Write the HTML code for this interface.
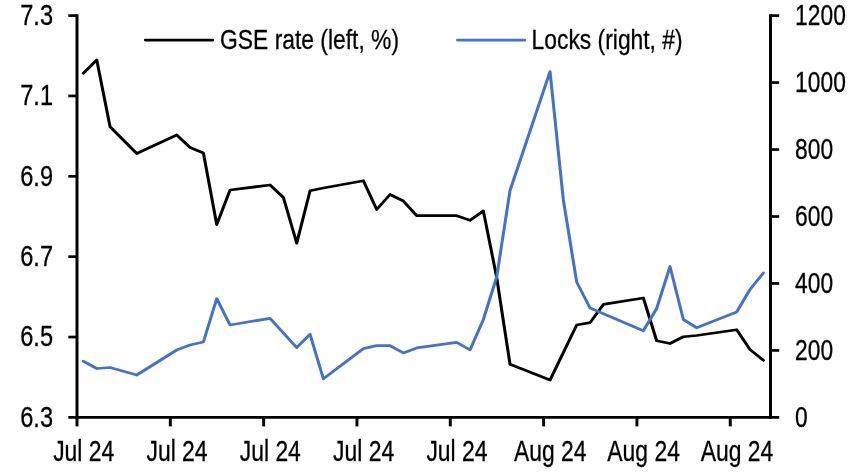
<!DOCTYPE html>
<html lang="en"><head><meta charset="utf-8"><title>GSE rate vs Locks</title>
<style>html,body{margin:0;padding:0;background:#fff}svg{display:block}text{font-family:"Liberation Sans",sans-serif;font-size:28px;fill:#000;stroke:#000;stroke-width:0.3px}</style></head><body>
<svg width="852" height="472" viewBox="0 0 852 472">
<rect width="852" height="472" fill="#fff"/>
<g transform="scale(1.1 1)" fill="none">
<g stroke="#000" stroke-width="2.7" stroke-linecap="butt">
<path d="M70.00 14.25V418.75"/>
<path d="M700.45 14.25V418.75"/>
<path d="M62.09 417.40H708.36"/>
<path d="M62.09 15.60H70.00"/>
<path d="M62.09 95.96H70.00"/>
<path d="M62.09 176.32H70.00"/>
<path d="M62.09 256.68H70.00"/>
<path d="M62.09 337.04H70.00"/>
<path d="M700.45 15.60H708.36"/>
<path d="M700.45 82.57H708.36"/>
<path d="M700.45 149.53H708.36"/>
<path d="M700.45 216.50H708.36"/>
<path d="M700.45 283.47H708.36"/>
<path d="M700.45 350.43H708.36"/>
<path d="M70.00 417.40V426.40"/>
<path d="M154.84 417.40V426.40"/>
<path d="M239.68 417.40V426.40"/>
<path d="M324.51 417.40V426.40"/>
<path d="M409.35 417.40V426.40"/>
<path d="M494.19 417.40V426.40"/>
<path d="M579.03 417.40V426.40"/>
<path d="M663.87 417.40V426.40"/>
</g>
<g stroke-width="2.75" stroke-linejoin="round" stroke-linecap="round">
<polyline points="75.83,73.20 87.95,60.00 100.07,126.75 124.31,153.50 160.67,135.00 172.79,147.50 184.91,153.10 197.03,224.60 209.15,190.00 245.51,185.00 257.63,197.50 269.75,243.10 281.87,190.75 293.99,188.00 330.35,180.75 342.47,209.50 354.59,194.50 366.71,201.05 378.83,215.70 415.18,215.70 427.30,220.30 439.42,210.90 451.54,277.50 463.66,364.30 500.02,380.10 524.26,325.00 536.38,322.70 548.50,304.40 584.86,298.00 596.98,340.75 609.10,343.50 621.22,336.75 633.34,335.50 669.70,329.75 681.82,349.50 693.94,360.25" stroke="#000"/>
<polyline points="75.83,361.25 87.95,368.50 100.07,367.50 124.31,375.00 160.67,350.00 172.79,345.00 184.91,342.00 197.03,298.70 209.15,325.00 245.51,318.30 269.75,347.60 281.87,334.30 293.99,378.80 330.35,348.65 342.47,345.70 354.59,345.70 366.71,352.90 378.83,347.90 415.18,342.40 427.30,349.90 439.42,319.50 451.54,277.00 463.66,190.50 500.02,71.60 512.14,200.00 524.26,282.00 536.38,308.00 584.86,330.75 596.98,308.50 609.10,266.50 621.22,319.50 633.34,327.75 669.70,312.00 681.82,289.50 693.94,272.95" stroke="#4472C4"/>
<path d="M132.18 40H193.36" stroke="#000"/>
<path d="M415.91 40H477.09" stroke="#4472C4"/>
</g>
</g>
<text transform="translate(220.10 48.60) scale(0.8074 1)" text-anchor="start" style="font-size:28.3px">GSE rate (left, %)</text>
<text transform="translate(531.60 48.60) scale(0.8074 1)" text-anchor="start" style="font-size:28.3px">Locks (right, #)</text>
<text transform="translate(53.00 25.00) scale(0.8099 1)" text-anchor="end" style="font-size:29.14px">7.3</text>
<text transform="translate(53.00 105.36) scale(0.8099 1)" text-anchor="end" style="font-size:29.14px">7.1</text>
<text transform="translate(53.00 185.72) scale(0.8099 1)" text-anchor="end" style="font-size:29.14px">6.9</text>
<text transform="translate(53.00 266.08) scale(0.8099 1)" text-anchor="end" style="font-size:29.14px">6.7</text>
<text transform="translate(53.00 346.44) scale(0.8099 1)" text-anchor="end" style="font-size:29.14px">6.5</text>
<text transform="translate(53.00 426.80) scale(0.8099 1)" text-anchor="end" style="font-size:29.14px">6.3</text>
<text transform="translate(795.10 25.00) scale(0.7824 1)" text-anchor="start" style="font-size:29.14px">1200</text>
<text transform="translate(795.10 91.97) scale(0.7824 1)" text-anchor="start" style="font-size:29.14px">1000</text>
<text transform="translate(795.10 158.93) scale(0.7824 1)" text-anchor="start" style="font-size:29.14px">800</text>
<text transform="translate(795.10 225.90) scale(0.7824 1)" text-anchor="start" style="font-size:29.14px">600</text>
<text transform="translate(795.10 292.87) scale(0.7824 1)" text-anchor="start" style="font-size:29.14px">400</text>
<text transform="translate(795.10 359.83) scale(0.7824 1)" text-anchor="start" style="font-size:29.14px">200</text>
<text transform="translate(795.10 426.80) scale(0.7824 1)" text-anchor="start" style="font-size:29.14px">0</text>
<text transform="translate(83.67 460.80) scale(0.7897 1)" text-anchor="middle" style="font-size:29px">Jul 24</text>
<text transform="translate(176.99 460.80) scale(0.7897 1)" text-anchor="middle" style="font-size:29px">Jul 24</text>
<text transform="translate(270.31 460.80) scale(0.7897 1)" text-anchor="middle" style="font-size:29px">Jul 24</text>
<text transform="translate(363.63 460.80) scale(0.7897 1)" text-anchor="middle" style="font-size:29px">Jul 24</text>
<text transform="translate(456.95 460.80) scale(0.7897 1)" text-anchor="middle" style="font-size:29px">Jul 24</text>
<text transform="translate(550.28 460.80) scale(0.7897 1)" text-anchor="middle" style="font-size:29px">Aug 24</text>
<text transform="translate(643.60 460.80) scale(0.7897 1)" text-anchor="middle" style="font-size:29px">Aug 24</text>
<text transform="translate(736.92 460.80) scale(0.7897 1)" text-anchor="middle" style="font-size:29px">Aug 24</text>
</svg></body></html>
